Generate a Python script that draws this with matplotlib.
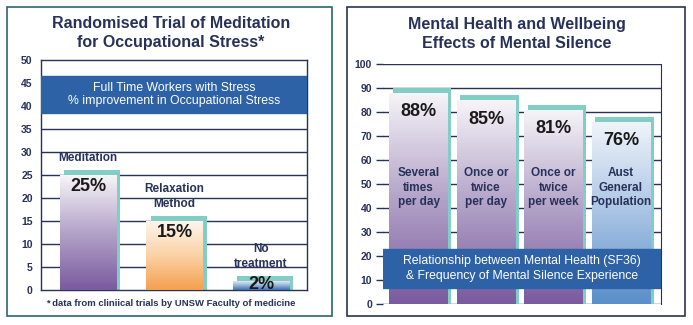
import numpy as np
import matplotlib
matplotlib.use('Agg')
import matplotlib.pyplot as plt
from matplotlib.colors import LinearSegmentedColormap
from matplotlib.patches import Rectangle
from matplotlib.transforms import ScaledTranslation

plt.rcParams['font.family'] = ['Liberation Sans', 'DejaVu Sans']

# data
left_title = 'Randomised Trial of Meditation\nfor Occupational Stress*'
left_cats = ['Meditation', 'Relaxation\nMethod', 'No\ntreatment']
left_vals = [25, 15, 2]
left_band = 'Full Time Workers with Stress\n% improvement in Occupational Stress'
left_note = '* data from cliniical trials by UNSW Faculty of medicine'

right_title = 'Mental Health and Wellbeing\nEffects of Mental Silence'
right_cats = ['Several\ntimes\nper day', 'Once or\ntwice\nper day',
              'Once or\ntwice\nper week', 'Aust\nGeneral\nPopulation']
right_vals = [88, 85, 81, 76]
right_band = 'Relationship between Mental Health (SF36)\n& Frequency of Mental Silence Experience'

navy = '#27315a'
teal = '#82cdc4'
band_col = '#2e62a6'

purple = LinearSegmentedColormap.from_list('p', ['#7a5b9f', '#b3a3c8', '#f6f4f8'])
orange = LinearSegmentedColormap.from_list('o', ['#f4a04e', '#fbd2a6', '#fef6ee'])
blue = LinearSegmentedColormap.from_list('b', ['#3d70ad', '#9bb9dc', '#f0f4fa'])
lblue = LinearSegmentedColormap.from_list('lb', ['#5b8fc9', '#a9c4e4', '#f0f4fa'])

fig = plt.figure(figsize=(6.93, 3.25), dpi=100)

# panel borders
fig.patches.append(Rectangle((7 / 693, 9 / 325), 325 / 693, 309 / 325, transform=fig.transFigure,
                             fill=False, ec='#2a6670', lw=1.2))
fig.patches.append(Rectangle((347 / 693, 9 / 325), 338 / 693, 309 / 325, transform=fig.transFigure,
                             fill=False, ec='#2b3550', lw=1.2))


def grad_bars(ax, x, vals, width, cmaps, pad, dx):
    # teal shadow shifted right and up
    sh = ax.bar(x, np.array(vals) + pad, width, color=teal, zorder=2)
    for p in sh:
        p.set_transform(ax.transData + ScaledTranslation(dx / 72, 0, fig.dpi_scale_trans))
    bars = ax.bar(x, vals, width, color='none', zorder=3)
    for b, cm in zip(bars, cmaps):
        x0, y0 = b.get_x(), b.get_y()
        im = ax.imshow(np.linspace(0, 1, 100).reshape(-1, 1), cmap=cm, aspect='auto',
                       origin='lower', extent=[x0, x0 + b.get_width(), y0, y0 + b.get_height()],
                       zorder=3)
        im.set_clip_path(b)


# ---- left chart
ax1 = fig.add_axes([41 / 693, 35 / 325, 266 / 693, 230 / 325])
x1 = np.arange(len(left_vals))
for y in range(5, 50, 5):
    ax1.axhline(y, color=navy, lw=1, zorder=1)
grad_bars(ax1, x1, left_vals, 0.65, [purple, orange, blue], 1.1, 3)
ax1.set_xlim(-0.543, 2.532)
ax1.set_ylim(0, 50)
ax1.set_yticks(range(0, 51, 5))
ax1.set_xticks([])
ax1.tick_params(axis='y', length=0, pad=6, labelsize=7.5, labelcolor=navy)
for lab in ax1.get_yticklabels():
    lab.set_fontweight('bold')
for s in ax1.spines.values():
    s.set_color(navy)
    s.set_linewidth(1)
ax1.add_patch(Rectangle((-0.543, 38.5), 3.075, 8, color=band_col, zorder=4))
ax1.text(0.5, 42.5, left_band, transform=ax1.get_yaxis_transform(), ha='center', va='center',
         color='white', fontsize=8.8, linespacing=1.2, zorder=5)
for xi, v, c in zip(x1, left_vals, left_cats):
    ax1.text(xi, v + 2.3, c, ha='center', va='bottom', color=navy, fontsize=8.5,
             fontweight='bold', linespacing=1.35, zorder=5)
    ax1.text(xi, max(v - 2.6, 1.1), f'{v}%', ha='center', va='center', color='#1a1a1a',
             fontsize=13, fontweight='bold', zorder=5)
fig.text(171 / 693, 1 - 33 / 325, left_title, ha='center', va='center', color=navy,
         fontsize=11.5, fontweight='bold', linespacing=1.25)
fig.text(171 / 693, 1 - 304 / 325, left_note, ha='center', va='center', color=navy,
         fontsize=6.8, fontweight='bold')

# ---- right chart
ax2 = fig.add_axes([383 / 693, 21 / 325, 278 / 693, 240 / 325])
x2 = np.arange(len(right_vals))
for y in range(0, 101, 10):
    ax2.axhline(y, color=navy, lw=1, zorder=1)
grad_bars(ax2, x2, right_vals, 0.87, [purple, purple, purple, lblue], 2.1, 2.5)
ax2.set_xlim(-0.526, 3.593)
ax2.set_ylim(0, 100)
ax2.set_yticks(range(0, 101, 10))
ax2.set_xticks([])
ax2.tick_params(axis='y', length=5, width=1, color=navy, pad=3, labelsize=7.5, labelcolor=navy)
for lab in ax2.get_yticklabels():
    lab.set_fontweight('bold')
for k in ['left', 'top', 'bottom']:
    ax2.spines[k].set_visible(False)
ax2.spines['right'].set_color(navy)
ax2.add_patch(Rectangle((-0.526, 6.7), 4.119, 16.2, color=band_col, zorder=4))
ax2.text(0.5, 14.8, right_band, transform=ax2.get_yaxis_transform(), ha='center', va='center',
         color='white', fontsize=8.8, linespacing=1.25, zorder=5)
for xi, v, c in zip(x2, right_vals, right_cats):
    ax2.text(xi, v - 8, f'{v}%', ha='center', va='center', color='#1a1a1a',
             fontsize=13, fontweight='bold', zorder=5)
    ax2.text(xi, 48.5, c, ha='center', va='center', color=navy, fontsize=8.5,
             fontweight='bold', linespacing=1.3, zorder=5)
fig.text(517 / 693, 1 - 34 / 325, right_title, ha='center', va='center', color=navy,
         fontsize=11.5, fontweight='bold', linespacing=1.25)

fig.savefig('out.png', dpi=100)
